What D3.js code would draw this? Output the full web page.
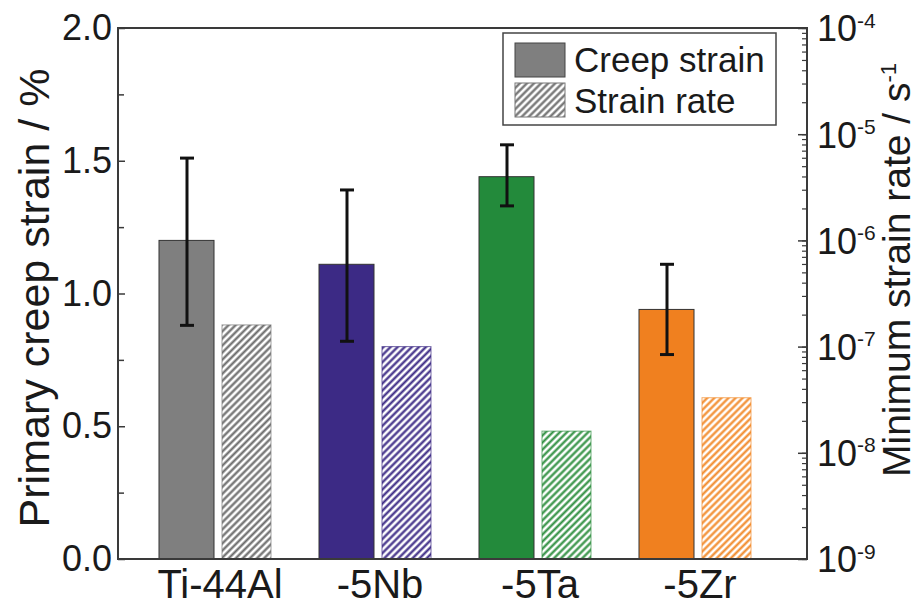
<!DOCTYPE html>
<html>
<head>
<meta charset="utf-8">
<script src="https://cdn.jsdelivr.net/npm/d3@7"></script>
<style>
  body { margin: 0; background: #fff; }
  svg text { font-family: "Liberation Sans", Arial, Helvetica, sans-serif; fill: #1a1a1a; }
</style>
</head>
<body>
<div id="chart"></div>
<script>
// values
var alloys = ["Ti-44Al", "-5Nb", "-5Ta", "-5Zr"];
var creepStrain = [1.20, 1.11, 1.44, 0.94];
var creepErrLow = [0.88, 0.82, 1.33, 0.77];
var creepErrHigh = [1.51, 1.39, 1.56, 1.11];
var strainRate = [1.6e-7, 1.0e-7, 1.6e-8, 3.3e-8];
var barColors = ["#7f7f7f", "#3c2a85", "#238a3b", "#f0801f"];
var hatchColors = ["#6a6a6a", "#3c2a85", "#2f8f40", "#f28a2a"];
var leftTicks = [0, 0.5, 1.0, 1.5, 2.0];
var leftMinor = [0.25, 0.75, 1.25, 1.75];
var rightTicks = [1e-9, 1e-8, 1e-7, 1e-6, 1e-5, 1e-4];

var W = 920, H = 605;
var plot = {left: 118, right: 807, top: 28, bottom: 559};

var svg = d3.select("#chart").append("svg")
    .attr("width", W)
    .attr("height", H);

var defs = svg.append("defs");

// hatch patterns, one per alloy colour (+ one grey for the legend)
hatchColors.concat(["#6a6a6a"]).forEach(function (c, i) {
    var p = defs.append("pattern")
        .attr("id", "hatch" + i)
        .attr("patternUnits", "userSpaceOnUse")
        .attr("width", 5)
        .attr("height", 5)
        .attr("patternTransform", "rotate(45)");
    p.append("rect").attr("width", 5).attr("height", 5).attr("fill", "#fff");
    p.append("line")
        .attr("x1", 1.5).attr("y1", 0)
        .attr("x2", 1.5).attr("y2", 5)
        .attr("stroke", c)
        .attr("stroke-width", 2.2);
});

var x = d3.scaleBand()
    .domain(alloys)
    .range([135, 775]);

var y = d3.scaleLinear()
    .domain([0, 2])
    .range([plot.bottom, plot.top]);

var yLog = d3.scaleLog()
    .domain([1e-9, 1e-4])
    .range([plot.bottom, plot.top]);

var g = svg.append("g");

// bars
alloys.forEach(function (a, i) {
    var cx = x(a) + x.bandwidth() / 2;

    g.append("rect")
        .attr("x", cx - 56)
        .attr("y", y(creepStrain[i]))
        .attr("width", 55)
        .attr("height", y(0) - y(creepStrain[i]))
        .attr("fill", barColors[i])
        .attr("stroke", "#333")
        .attr("stroke-width", 1);

    g.append("rect")
        .attr("x", cx + 7)
        .attr("y", yLog(strainRate[i]))
        .attr("width", 49)
        .attr("height", yLog(1e-9) - yLog(strainRate[i]))
        .attr("fill", "url(#hatch" + i + ")")
        .attr("stroke", i == 0 ? "#777" : hatchColors[i])
        .attr("stroke-opacity", 0.7)
        .attr("stroke-width", 1);

    // error bar
    var eb = g.append("g")
        .attr("stroke", "#111")
        .attr("stroke-width", 3);
    eb.append("line")
        .attr("x1", cx - 28).attr("x2", cx - 28)
        .attr("y1", y(creepErrHigh[i])).attr("y2", y(creepErrLow[i]));
    [creepErrHigh[i], creepErrLow[i]].forEach(function (v) {
        eb.append("line")
            .attr("x1", cx - 35).attr("x2", cx - 21)
            .attr("y1", y(v)).attr("y2", y(v));
    });
});

// frame
svg.append("rect")
    .attr("x", plot.left)
    .attr("y", plot.top)
    .attr("width", plot.right - plot.left)
    .attr("height", plot.bottom - plot.top)
    .attr("fill", "none")
    .attr("stroke", "#3a3a3a")
    .attr("stroke-width", 2);

// left axis
var leftAxis = d3.axisLeft(y)
    .tickValues(leftTicks)
    .tickFormat(d3.format(".1f"))
    .tickSizeInner(-7)
    .tickSizeOuter(0)
    .tickPadding(6);

var la = svg.append("g")
    .attr("transform", "translate(" + plot.left + ",0)")
    .call(leftAxis);
la.select(".domain").remove();
la.selectAll("line").attr("stroke", "#3a3a3a").attr("stroke-width", 1.5);
la.selectAll("text")
    .style("font-size", "36px")
    .attr("fill", "#1a1a1a");

var lm = svg.append("g")
    .attr("transform", "translate(" + plot.left + ",0)")
    .call(d3.axisLeft(y).tickValues(leftMinor).tickFormat("").tickSizeInner(-6).tickSizeOuter(0));
lm.select(".domain").remove();
lm.selectAll("line").attr("stroke", "#3a3a3a").attr("stroke-width", 1.5);

// right axis, log
var rm = svg.append("g")
    .attr("transform", "translate(" + plot.right + ",0)")
    .call(d3.axisRight(yLog).tickValues(yLog.ticks()).tickFormat("").tickSizeInner(-5).tickSizeOuter(0));
rm.select(".domain").remove();
rm.selectAll("line").attr("stroke", "#3a3a3a").attr("stroke-width", 1.2);

var ra = svg.append("g")
    .attr("transform", "translate(" + plot.right + ",0)")
    .call(d3.axisRight(yLog).tickValues(rightTicks).tickFormat("").tickSizeInner(-9).tickSizeOuter(0));
ra.select(".domain").remove();
ra.selectAll("line").attr("stroke", "#3a3a3a").attr("stroke-width", 1.5);

ra.selectAll(".tick").each(function (d) {
    var t = d3.select(this).append("text")
        .attr("x", 10)
        .attr("dy", "0.36em")
        .attr("text-anchor", "start")
        .style("font-size", "36px")
        .attr("fill", "#1a1a1a");
    t.append("tspan").text("10");
    t.append("tspan")
        .attr("dy", "-0.66em")
        .style("font-size", "21px")
        .text(String(Math.round(Math.log10(d))));
});

// category labels
svg.append("g")
    .attr("transform", "translate(0," + plot.bottom + ")")
    .call(d3.axisBottom(x).tickSize(0).tickPadding(0))
    .call(function (ax) {
        ax.select(".domain").remove();
        ax.selectAll("text")
            .attr("dy", null)
            .attr("y", 39)
            .attr("dx", 5)
            .style("font-size", "40px")
            .attr("fill", "#1a1a1a");
    });

// axis titles
svg.append("text")
    .attr("transform", "translate(49,298) rotate(-90)")
    .attr("text-anchor", "middle")
    .style("font-size", "43px")
    .text("Primary creep strain / %");

var rt = svg.append("text")
    .attr("transform", "translate(910,270) rotate(-90)")
    .attr("text-anchor", "middle")
    .style("font-size", "39px");
rt.append("tspan").text("Minimum strain rate / s");
rt.append("tspan").attr("dy", "-0.62em").style("font-size", "22px").text("-1");

// legend
var lg = svg.append("g");
lg.append("rect")
    .attr("x", 503).attr("y", 33)
    .attr("width", 273).attr("height", 92)
    .attr("fill", "#fff")
    .attr("stroke", "#444")
    .attr("stroke-width", 1.5);
lg.append("rect")
    .attr("x", 515).attr("y", 43)
    .attr("width", 50).attr("height", 34)
    .attr("fill", barColors[0])
    .attr("stroke", "#444");
lg.append("rect")
    .attr("x", 515).attr("y", 83)
    .attr("width", 50).attr("height", 34)
    .attr("fill", "url(#hatch4)")
    .attr("stroke", "#777");
lg.append("text")
    .attr("x", 574).attr("y", 72)
    .style("font-size", "35px")
    .text("Creep strain");
lg.append("text")
    .attr("x", 574).attr("y", 113)
    .style("font-size", "35px")
    .text("Strain rate");
</script>
</body>
</html>
